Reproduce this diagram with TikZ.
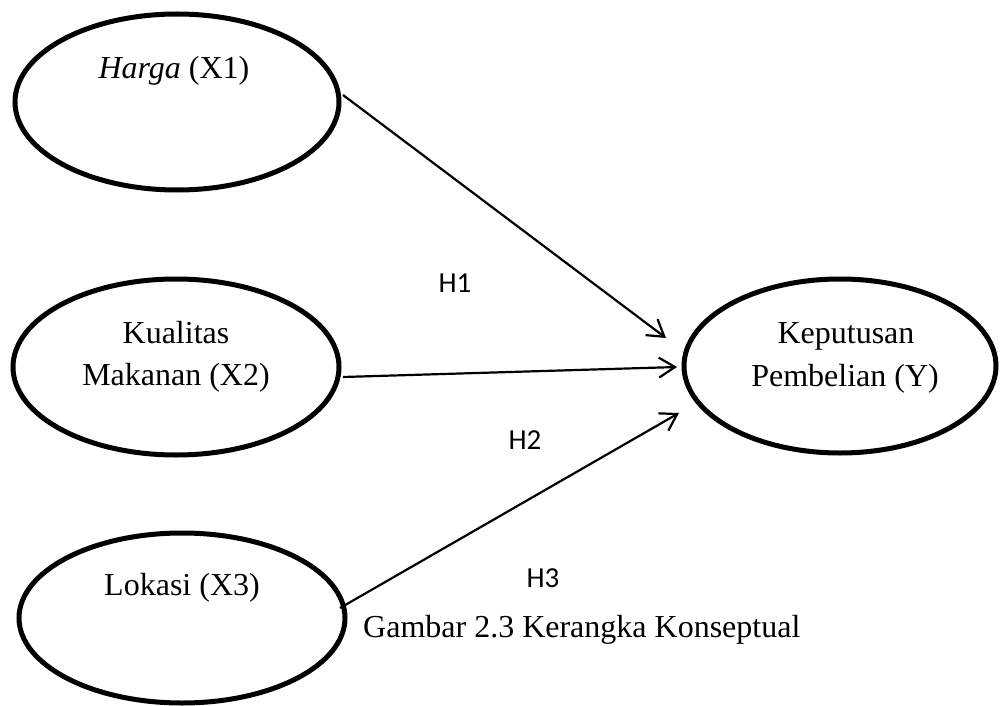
\documentclass[tikz,border=0pt]{standalone}
\usepackage{fontspec}
\setmainfont{Liberation Serif}
\newfontfamily\calibri{Carlito}
\usetikzlibrary{shapes.geometric,arrows.meta}
\begin{document}
\begin{tikzpicture}[x=1pt,y=-1pt,
  var/.style={draw=black, line width=5pt, ellipse, inner sep=0pt, outer sep=0pt},
  txt/.style={anchor=base, inner sep=0pt, font=\fontsize{32}{42}\selectfont},
  hyp/.style={anchor=base, inner sep=0pt, font=\calibri\fontsize{29}{35}\selectfont},
  conn/.style={draw=black, line width=2.2pt, -{Straight Barb[length=16pt,width=20pt,line width=2.2pt]}}]
\useasboundingbox (0,0) rectangle (1001,706);
\node[var, minimum width=324pt, minimum height=176pt] (e1) at (177,102) {};
\node[var, minimum width=326pt, minimum height=176pt] (e2) at (176,367) {};
\node[var, minimum width=326pt, minimum height=170pt] (e3) at (182,618) {};
\node[var, minimum width=312pt, minimum height=174pt] (eY) at (840,366) {};
\node[txt] (t1) at (174,79) {\textit{Harga} (X1)};
\node[txt] (t2a) at (176,343) {Kualitas};
\node[txt] (t2b) at (176,385) {Makanan (X2)};
\node[txt] (t3) at (182,595) {Lokasi (X3)};
\node[txt] (tYa) at (846,343) {Keputusan};
\node[txt] (tYb) at (845,386) {Pembelian (Y)};
\node[hyp] (h1) at (455,292) {H1};
\node[hyp] (h2) at (525,449) {H2};
\node[hyp] (h3) at (543,587) {H3};
\node[txt, anchor=base west] (cap) at (363,637) {Gambar 2.3 Kerangka Konseptual};
\coordinate (s1) at (343,95);
\coordinate (s2) at (343,377);
\coordinate (s3) at (340,608);
\coordinate (p1) at (666,338);
\coordinate (p2) at (677,367);
\coordinate (p3) at (679,413);
\draw[conn] (s1) -- (p1);
\draw[conn] (s2) -- (p2);
\draw[conn] (s3) -- (p3);
\end{tikzpicture}
\end{document}
